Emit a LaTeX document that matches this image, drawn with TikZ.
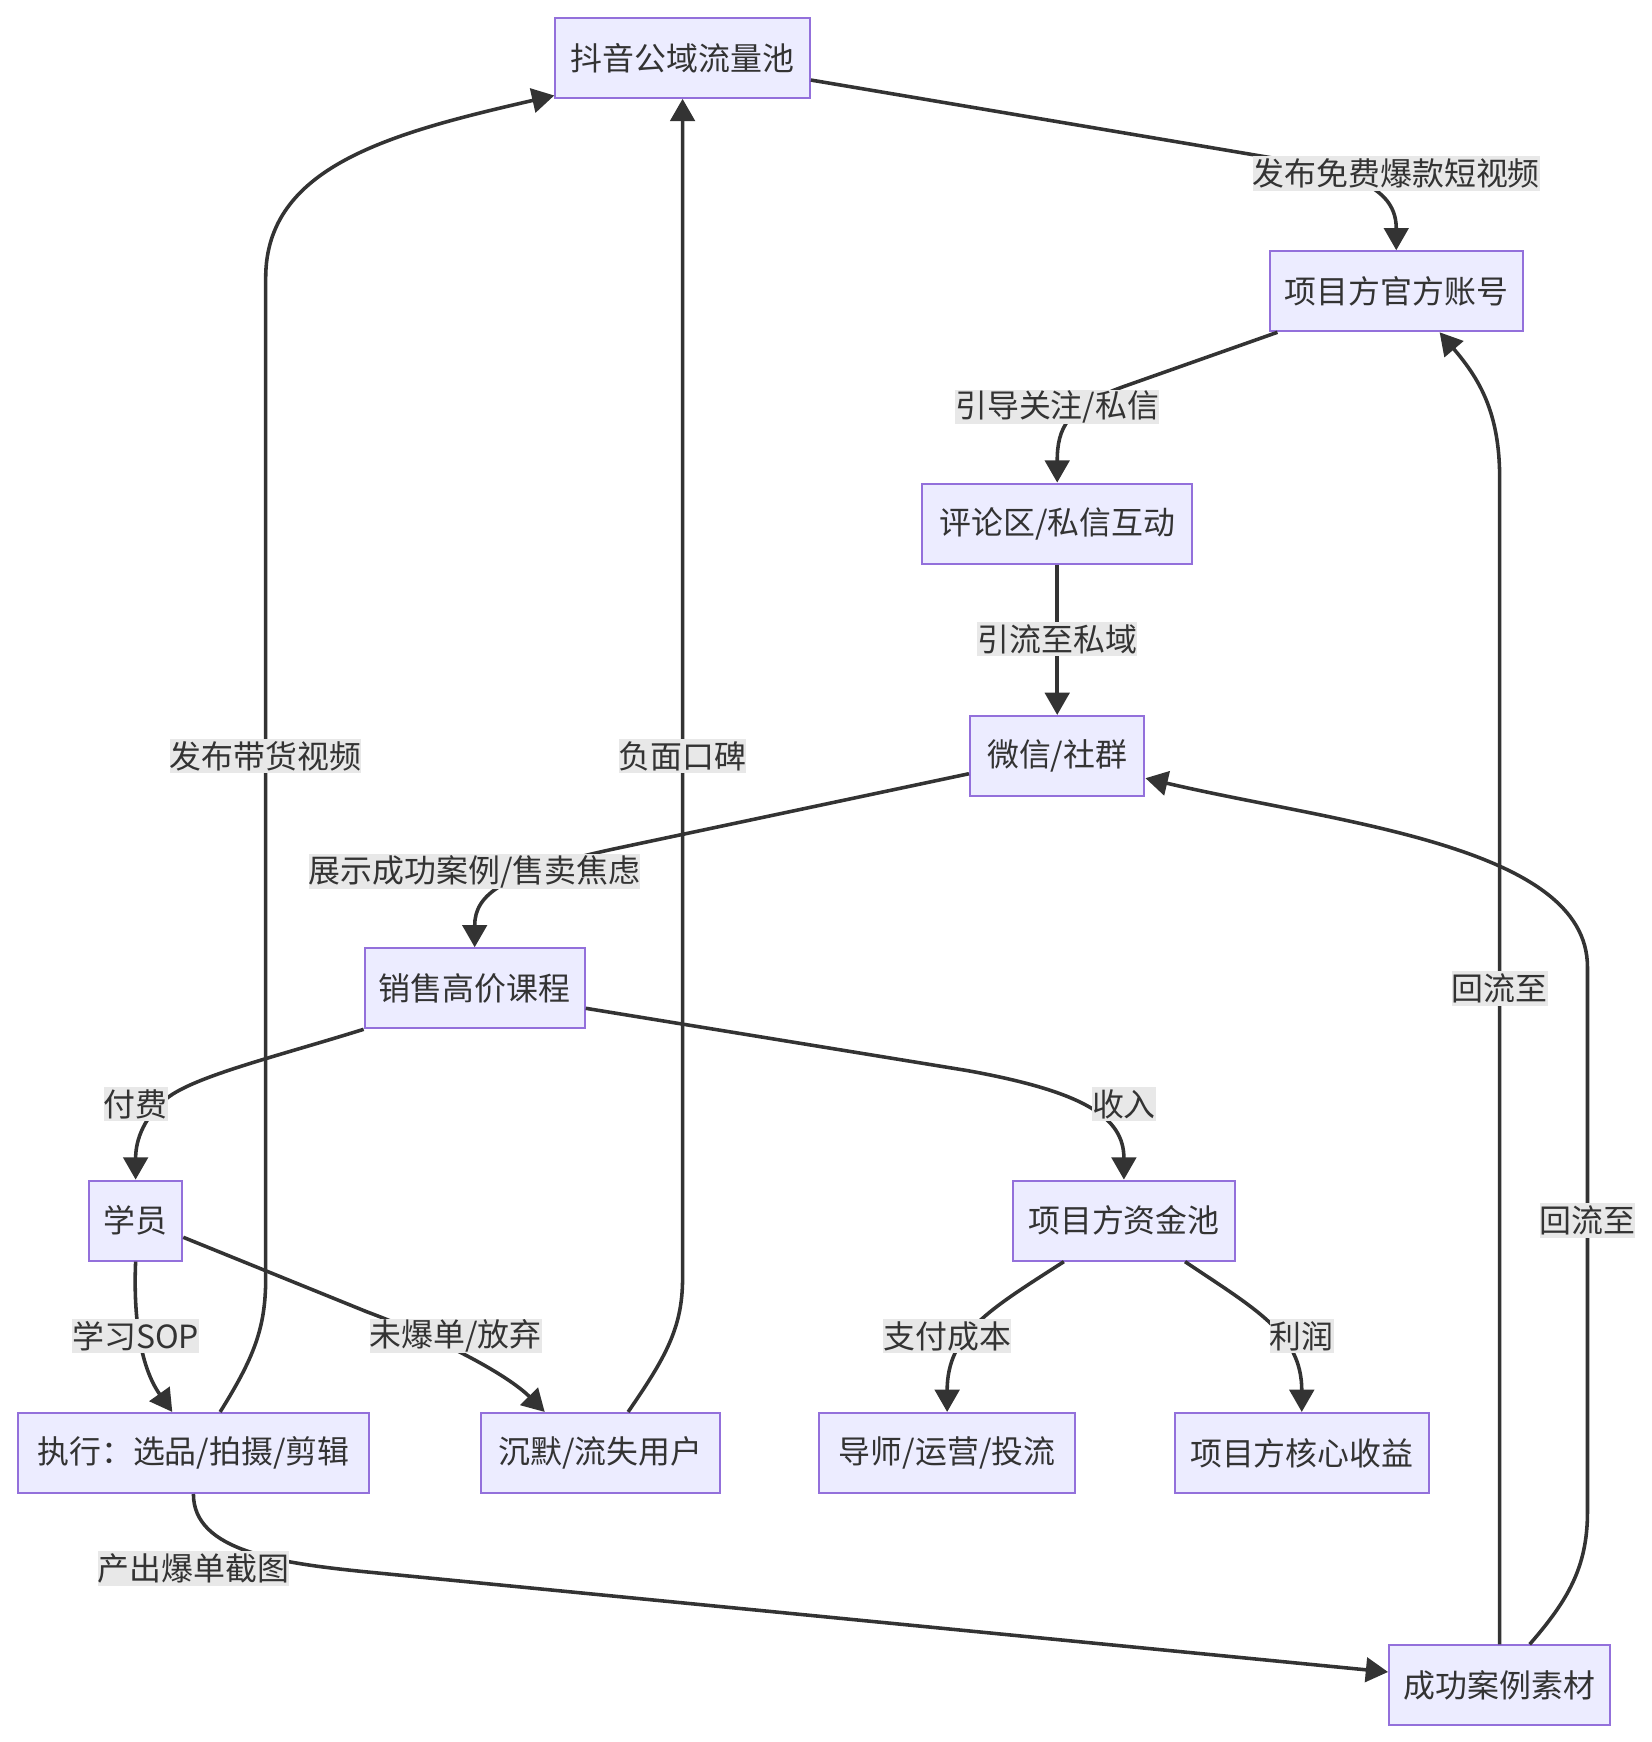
\documentclass[tikz,border=0pt]{standalone}
\usepackage{fontspec}
\setmainfont{Noto Sans CJK SC}
\usetikzlibrary{arrows.meta}
\definecolor{boxfill}{HTML}{ECECFF}
\definecolor{boxline}{HTML}{9370DB}
\definecolor{ink}{HTML}{333333}
\definecolor{lblfill}{HTML}{E8E8E8}
\begin{document}
\begin{tikzpicture}[x=1pt,y=-1pt,
    box/.style={draw=boxline,fill=boxfill,line width=1.8pt,text=ink,minimum height=72pt,inner sep=0pt,font=\fontsize{28.7}{34}\selectfont},
    lbl/.style={fill=lblfill,text=ink,inner sep=0pt,minimum height=31pt,font=\fontsize{28.7}{34}\selectfont},
    flow/.style={draw=ink,line width=3.2pt,-{Triangle[length=20pt,width=22pt]}}]

      \useasboundingbox (0,0) rectangle (1486,1567);

      \begin{scope}[every node/.style={box}]
        \node[minimum width=229pt] (1)  at (614,52)   {抖音公域流量池};
        \node[minimum width=228pt] (2)  at (1256,262) {项目方官方账号};
        \node[minimum width=243pt] (3)  at (951,471)  {评论区/私信互动};
        \node[minimum width=157pt] (4)  at (951,680)  {微信/社群};
        \node[minimum width=198pt] (5)  at (427,889)  {销售高价课程};
        \node[minimum width=84pt]  (6)  at (122,1098) {学员};
        \node[minimum width=199pt] (7)  at (1011,1098) {项目方资金池};
        \node[minimum width=316pt] (8)  at (174,1307) {执行：选品/拍摄/剪辑};
        \node[minimum width=215pt] (9)  at (540,1307) {沉默/流失用户};
        \node[minimum width=230pt] (10) at (852,1307) {导师/运营/投流};
        \node[minimum width=228pt] (11) at (1171,1307) {项目方核心收益};
        \node[minimum width=199pt] (12) at (1349,1516) {成功案例素材};
      \end{scope}

      \begin{scope}[every path/.style={flow}]
        \draw ([yshift=-20pt]1.east) -- (1150,143) .. controls (1230,157) and (1256,175) .. (2.north);
        \draw ([xshift=8pt]2.south west) -- (1010,348) .. controls (960,366) and (951,385) .. (3.north);
        \draw (3.south) -- (4.north);
        \draw ([yshift=-16pt]4.west) -- (560,762) .. controls (450,785) and (427,805) .. (5.north);
        \draw (5.south west) .. controls (250,950) and (175,968) .. (150,988) .. controls (126,1008) and (122,1030) .. (6.north);
        \draw ([yshift=-18pt]5.east) -- (870,963) .. controls (975,982) and (1011,1005) .. (7.north);
        \draw (6.south) .. controls (120,1180) and (125,1228) .. ([xshift=-19pt]8.north);
        \draw ([yshift=-15pt]6.east) -- (330,1180) .. controls (410,1210) and (460,1240) .. ([xshift=-50pt]9.north);
        \draw ([xshift=24pt]8.north) .. controls (228,1222) and (239,1195) .. (239,1150) -- (239,250) .. controls (239,150) and (350,120) .. ([yshift=3pt]1.south west);
        \draw ([xshift=25pt]9.north) .. controls (598,1222) and (614,1195) .. (614,1150) -- (1.south);
        \draw (8.south) .. controls (174,1395) and (250,1406) .. (330,1414) -- ([yshift=12pt]12.west);
        \draw ([xshift=-54pt]7.south) .. controls (890,1178) and (852,1200) .. (10.north);
        \draw ([xshift=55pt]7.south) .. controls (1130,1178) and (1171,1200) .. (11.north);
        \draw (12.north) -- (1349,430) .. controls (1349,370) and (1330,340) .. ([xshift=39pt]2.south);
        \draw ([xshift=27pt]12.north) .. controls (1410,1440) and (1428,1410) .. (1428,1360) -- (1428,870) .. controls (1428,760) and (1200,740) .. ([yshift=-20pt]4.east);
      \end{scope}

      \begin{scope}[every node/.style={lbl}]
        \node (l1)  at (1256,156) {发布免费爆款短视频};
        \node (l2)  at (951,366)  {引导关注/私信};
        \node (l3)  at (951,575)  {引流至私域};
        \node (l4)  at (427,784)  {展示成功案例/售卖焦虑};
        \node (l5)  at (122,993)  {付费};
        \node (l6)  at (1011,993) {收入};
        \node (l7)  at (122,1202) {学习SOP};
        \node (l8)  at (410,1202) {未爆单/放弃};
        \node (l9)  at (852,1202) {支付成本};
        \node (l10) at (1171,1202) {利润};
        \node (l11) at (174,1411) {产出爆单截图};
        \node (l12) at (239,680)  {发布带货视频};
        \node (l13) at (614,680)  {负面口碑};
        \node (l14) at (1349,889) {回流至};
        \node (l15) at (1428,1098) {回流至};
      \end{scope}

    \end{tikzpicture}
\end{document}
